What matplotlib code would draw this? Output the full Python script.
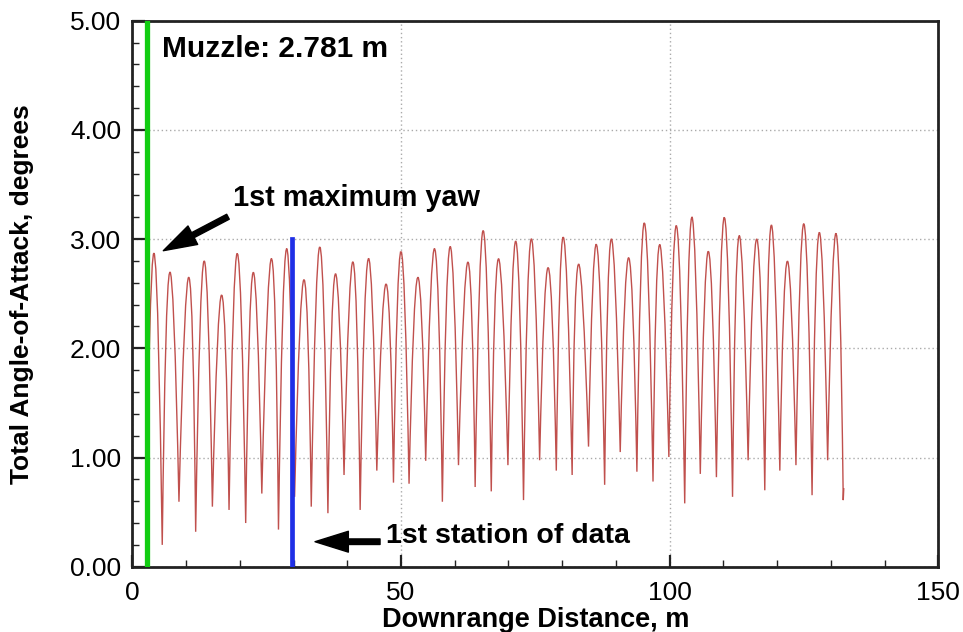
import numpy as np
import matplotlib
matplotlib.use('Agg')
import matplotlib.pyplot as plt
from matplotlib.path import Path
from matplotlib.patches import PathPatch
from matplotlib.ticker import MultipleLocator, FormatStrFormatter

plt.rcParams['font.family'] = ['Liberation Sans', 'DejaVu Sans']

# extrema (downrange m, total AoA deg)
peak_x = [4.21, 6.94, 10.55, 13.34, 16.63, 19.55, 22.47, 25.95, 28.68, 31.97,
          34.9, 37.75, 41.1, 43.9, 47.25, 50.0, 53.1, 56.3, 59.1, 62.5,
          65.3, 68.1, 71.4, 74.2, 77.4, 80.2, 83.0, 86.4, 89.1, 92.4,
          95.3, 98.1, 101.3, 104.1, 107.2, 110.2, 112.9, 116.25, 118.9, 121.9,
          125.0, 127.8, 131.0]
peak_y = [2.83, 2.695, 2.65, 2.80, 2.49, 2.87, 2.695, 2.82, 2.91, 2.63,
          2.93, 2.68, 2.79, 2.82, 2.59, 2.89, 2.65, 2.91, 2.93, 2.79,
          3.08, 2.82, 2.98, 3.00, 2.74, 3.02, 2.77, 2.95, 3.00, 2.83,
          3.15, 2.95, 3.12, 3.20, 2.89, 3.20, 3.03, 3.00, 3.13, 2.80,
          3.14, 3.06, 3.05]
trough_x = [5.57, 8.68, 11.79, 14.9, 18.0, 21.1, 24.1, 27.2, 30.2, 33.3,
            36.4, 39.4, 42.4, 45.5, 48.6, 51.5, 54.6, 57.7, 60.7, 63.8,
            66.8, 69.9, 72.8, 75.8, 78.9, 81.85, 84.9, 87.9, 90.8, 93.9,
            96.9, 99.85, 102.8, 105.7, 108.7, 111.7, 114.6, 117.7, 120.5, 123.5,
            126.5, 129.4, 132.3]
trough_y = [0.20, 0.595, 0.32, 0.55, 0.52, 0.40, 0.67, 0.34, 0.64, 0.55,
            0.49, 0.84, 0.52, 0.88, 0.77, 0.76, 0.97, 0.595, 0.93, 0.73,
            0.69, 0.93, 0.61, 0.975, 0.88, 0.84, 1.10, 0.75, 1.05, 0.87,
            0.78, 1.005, 0.58, 0.85, 0.82, 0.64, 0.975, 0.70, 0.88, 0.93,
            0.655, 0.975, 0.61]
start_pt = (2.9, 1.38)
end_pt = (132.4, 0.72)

muzzle_x = 2.781
station_x = 29.8
station_top = 3.0

# trace: rounded peaks, sharp troughs -> one quadratic bezier per lobe
verts = [start_pt]
codes = [Path.MOVETO]
prev = start_pt
for px, py, tx, ty in zip(peak_x, peak_y, trough_x, trough_y):
    cx = 2 * px - 0.5 * (prev[0] + tx)
    cy = 2 * py - 0.5 * (prev[1] + ty)
    verts += [(cx, cy), (tx, ty)]
    codes += [Path.CURVE3, Path.CURVE3]
    prev = (tx, ty)
verts.append(end_pt)
codes.append(Path.LINETO)

fig = plt.figure(figsize=(9.63, 6.32), dpi=100)
ax = fig.add_axes([0.1374, 0.1033, 0.8370, 0.8639])

trace = PathPatch(Path(verts, codes), facecolor='none', edgecolor='#c0504d', lw=1.0, zorder=3)
ax.add_patch(trace)
ax.plot([muzzle_x, muzzle_x], [0, 5], color='#11cc11', lw=3.8, zorder=4)
ax.plot([station_x, station_x], [0, station_top], color='#1f2fe6', lw=3.4, zorder=4)

ax.set_xlim(0, 150)
ax.set_ylim(0, 5)
ax.xaxis.set_major_locator(MultipleLocator(50))
ax.xaxis.set_minor_locator(MultipleLocator(10))
ax.yaxis.set_major_locator(MultipleLocator(1))
ax.yaxis.set_minor_locator(MultipleLocator(0.2))
ax.yaxis.set_major_formatter(FormatStrFormatter('%.2f'))
ax.tick_params(which='both', direction='in', colors='#222222', labelcolor='black')
ax.tick_params(which='major', length=9, width=1.6, labelsize=19, pad=8)
ax.tick_params(which='minor', length=5, width=1.0)
ax.tick_params(axis='x', which='major', pad=10)
for s in ax.spines.values():
    s.set_linewidth(2.0)
    s.set_color('#222222')

ax.grid(True, which='major', linestyle=(0, (1, 2)), color='#aaaaaa', lw=1.0, zorder=0)

ax.set_xlabel('Downrange Distance, m', fontsize=19.5, fontweight='bold')
ax.set_ylabel('Total Angle-of-Attack, degrees', fontsize=19, fontweight='bold')
ax.xaxis.set_label_coords(0.5, -0.074)
ax.yaxis.set_label_coords(-0.122, 0.5)

ax.text(5.6, 4.74, 'Muzzle: 2.781 m', fontsize=21.5, fontweight='bold', va='center', ha='left')
ax.text(18.8, 3.376, '1st maximum yaw', fontsize=20.8, fontweight='bold', va='center', ha='left')
ax.text(47.2, 0.28, '1st station of data', fontsize=20.5, fontweight='bold', va='center', ha='left')

arrow = dict(facecolor='black', edgecolor='black', width=4, headwidth=15, headlength=24, shrink=0)
ax.annotate('', xy=(5.77, 2.894), xytext=(17.8, 3.205), arrowprops=arrow)
ax.annotate('', xy=(34.0, 0.229), xytext=(46.1, 0.229), arrowprops=arrow)

fig.savefig('out.png', dpi=100)
